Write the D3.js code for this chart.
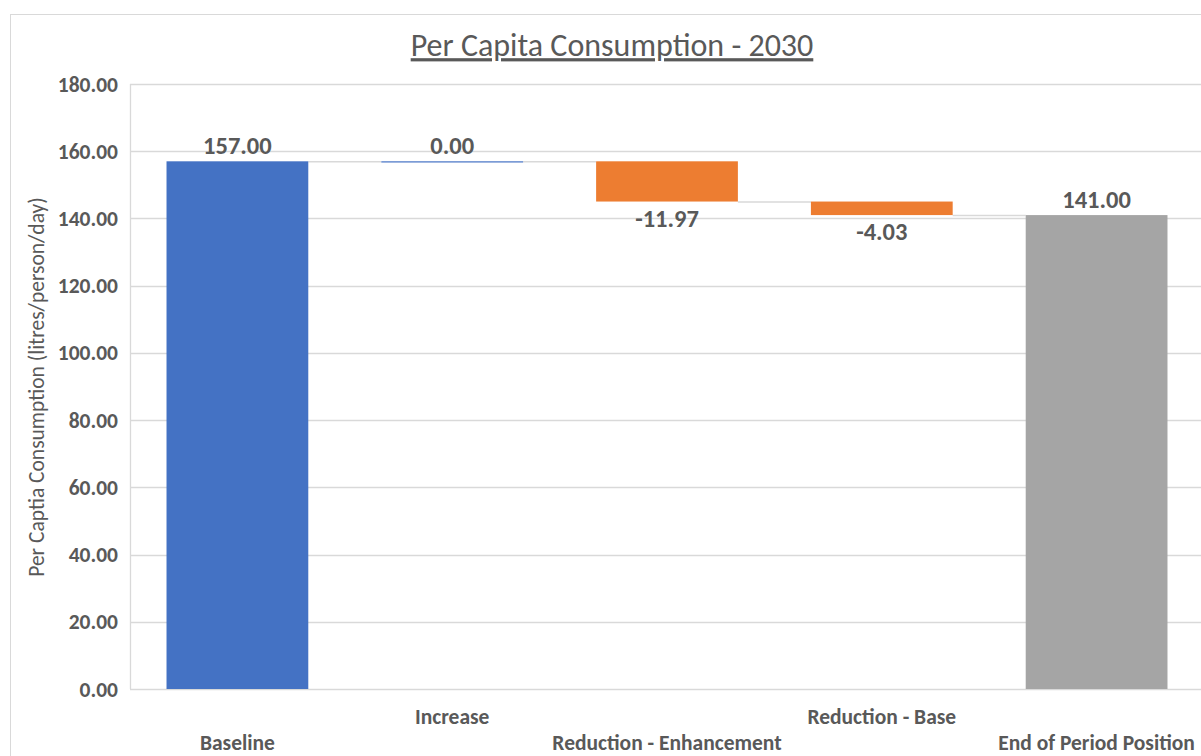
<!DOCTYPE html>
<html><head><meta charset="utf-8">
<script src="https://cdn.jsdelivr.net/npm/d3@7"></script>
<style>body{margin:0;background:#fff}svg{display:block}</style>
</head><body>
<svg id="c" width="1201" height="756"></svg>
<script>
const categories = ["Baseline", "Increase", "Reduction - Enhancement", "Reduction - Base", "End of Period Position"];
const values = [157.00, 0.00, -11.97, -4.03, 141.00];
const kinds = ["total", "delta", "delta", "delta", "total"];
const yTicks = [0, 20, 40, 60, 80, 100, 120, 140, 160, 180];
const title = "Per Capita Consumption - 2030";
const yTitle = "Per Captia Consumption (litres/person/day)";

const font = "Calibri, Carlito, 'Open Sans', sans-serif";
const txt = "#595959", grid = "#d9d9d9";
const svg = d3.select("#c");
const fmt = v => d3.format(".2f")(v).replace("\u2212", "-");

// chart border
svg.append("rect").attr("x", 10.5).attr("y", 14.5).attr("width", 1200).attr("height", 760)
  .attr("fill", "none").attr("stroke", grid);

const x = d3.scaleBand().domain(categories).range([130, 1204]).paddingInner(0.34).paddingOuter(0.17);
const y = d3.scaleLinear().domain([0, 180]).range([689, 84]);

// waterfall computation
let run = 0;
const bars = categories.map((c, i) => {
  let start, end;
  if (kinds[i] === "total") { start = 0; end = values[i]; run = values[i]; }
  else { start = run; end = run + values[i]; run = end; }
  return { c, v: values[i], start, end, kind: kinds[i], i };
});

// gridlines
svg.append("g").selectAll("line").data(yTicks).join("line")
  .attr("x1", 130).attr("x2", 1204)
  .attr("y1", d => Math.round(y(d)) + 0.5).attr("y2", d => Math.round(y(d)) + 0.5)
  .attr("stroke", grid).attr("stroke-width", 1.3);
svg.append("line").attr("x1", 130.5).attr("x2", 130.5).attr("y1", y(180)).attr("y2", y(0))
  .attr("stroke", grid).attr("stroke-width", 1.3);

// y tick labels
svg.append("g").selectAll("text").data(yTicks).join("text")
  .attr("x", 118).attr("y", d => y(d)).attr("dy", "0.35em").attr("text-anchor", "end")
  .attr("font-family", font).attr("font-weight", "bold").attr("font-size", 21.5).attr("fill", txt)
  .text(d => fmt(d));

// connectors
const bw = x.bandwidth();
svg.append("g").selectAll("line").data(bars.slice(0, -1)).join("line")
  .attr("x1", d => x(d.c) + bw).attr("x2", d => x(categories[d.i + 1]))
  .attr("y1", d => y(d.end) + 0.5).attr("y2", d => y(d.end) + 0.5)
  .attr("stroke", "#d9d9d9").attr("stroke-width", 1.5);

// bars
const color = d => d.kind === "total" ? (d.i === 0 ? "#4472c4" : "#a5a5a5") : (d.v < 0 ? "#ed7d31" : "#4472c4");
svg.append("g").selectAll("rect").data(bars).join("rect")
  .attr("x", d => x(d.c)).attr("width", bw)
  .attr("y", d => y(Math.max(d.start, d.end)))
  .attr("height", d => Math.max(1.2, Math.abs(y(d.start) - y(d.end))))
  .attr("fill", color);

// data labels
svg.append("g").selectAll("text").data(bars).join("text")
  .attr("x", d => x(d.c) + bw / 2)
  .attr("y", d => d.v < 0 ? y(Math.min(d.start, d.end)) + 16.5 : y(Math.max(d.start, d.end)) - 15.5)
  .attr("dy", "0.35em").attr("text-anchor", "middle")
  .attr("font-family", font).attr("font-weight", "bold").attr("font-size", 24.5).attr("fill", txt)
  .text(d => fmt(d.v));

// category labels (staggered)
svg.append("g").selectAll("text").data(bars).join("text")
  .attr("x", d => x(d.c) + bw / 2)
  .attr("y", d => d.i % 2 === 0 ? 742 : 716).attr("dy", "0.35em").attr("text-anchor", "middle")
  .attr("font-family", font).attr("font-weight", "bold").attr("font-size", 21.5).attr("fill", txt)
  .text(d => d.c);

// title
svg.append("text").attr("x", 612).attr("y", 45).attr("dy", "0.35em").attr("text-anchor", "middle")
  .attr("font-family", font).attr("font-size", 32).attr("fill", txt)
  .attr("text-decoration", "underline").text(title);

// y axis title
svg.append("text").attr("transform", "translate(36,387) rotate(-90)").attr("dy", "0.35em")
  .attr("text-anchor", "middle").attr("font-family", font).attr("font-size", 21.5).attr("fill", txt)
  .text(yTitle);
</script>
</body></html>
